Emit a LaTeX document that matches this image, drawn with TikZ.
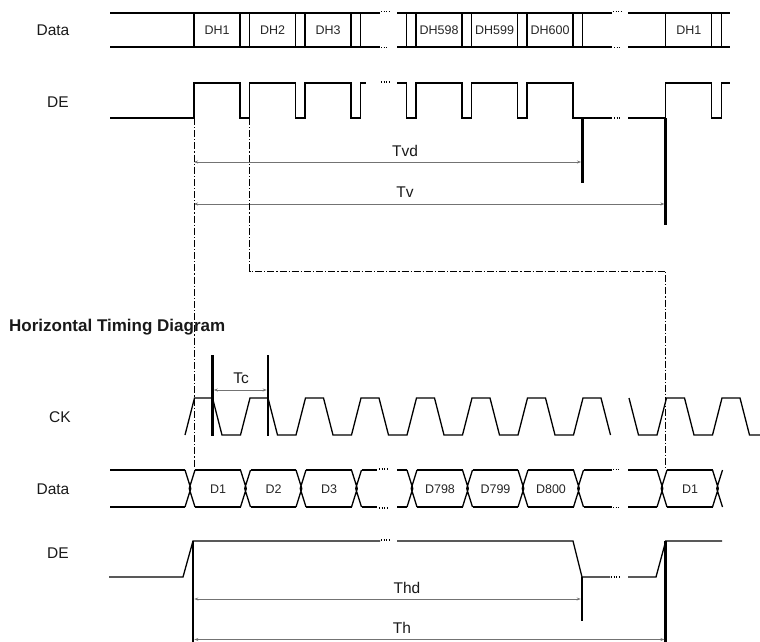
\documentclass[tikz,border=0pt]{standalone}
\usepackage{fontspec}
\setmainfont{Liberation Sans}
\usetikzlibrary{arrows.meta}
\tikzset{
  wave/.style={line width=1.3pt, line join=miter, draw=black},
  bar/.style={line width=2.6pt, draw=black},
  dim/.style={draw=black!55, line width=0.7pt, {Stealth[length=4pt,width=3pt]}-{Stealth[length=4pt,width=3pt]}},
  dd/.style={line width=0.9pt, draw=black, dash pattern=on 7pt off 2pt on 1.2pt off 2pt},
  gapdots/.style={line width=1.2pt, draw=black, dash pattern=on 1.2pt off 1.4pt},
  lbl/.style={inner sep=0pt, text=black!90, font=\fontsize{15.5}{18}\selectfont},
  cell/.style={inner sep=0pt, text=black!85, font=\fontsize{12.5}{14}\selectfont},
  head/.style={inner sep=0pt, anchor=west, text=black!90, font=\bfseries\fontsize{17}{20}\selectfont},
}
\begin{document}
\begin{tikzpicture}[x=1pt,y=-1pt]
\useasboundingbox (0,0) rectangle (760,642);

% ---------------- top Data row ----------------
\node[lbl] (dataV) at (53,30) {Data};
\draw[wave] (110,13) -- (380,13) (110,47) -- (380,47)
            (397,13) -- (612,13) (397,47) -- (612,47)
            (628,13) -- (730,13) (628,47) -- (730,47);
\draw[gapdots] (381,11.5) -- (389,11.5) (381,47.5) -- (388,47.5)
               (613,11.5) -- (621,11.5) (614,47.5) -- (620,47.5);
\foreach \x in {194,240,249.5,295.5,305,351,360.5,406.5,416,462,471.5,517.5,527,573,582.5,665.75,711.75,721.25}
  \draw[wave] (\x,12.4) -- (\x,47.8);
\node[cell] (dh1)   at (217,30)    {DH1};
\node[cell] (dh2)   at (272.5,30)  {DH2};
\node[cell] (dh3)   at (328,30)    {DH3};
\node[cell] (dh598) at (439,30)    {DH598};
\node[cell] (dh599) at (494.5,30)  {DH599};
\node[cell] (dh600) at (550,30)    {DH600};
\node[cell] (dh1b)  at (688.75,30) {DH1};

% ---------------- top DE row ----------------
\node[lbl] (deV) at (58,102) {DE};
\draw[wave] (110,118) -- (194,118) -- (194,83) -- (240,83) -- (240,118) -- (249.5,118)
  -- (249.5,83) -- (295.5,83) -- (295.5,118) -- (305,118) -- (305,83) -- (351,83)
  -- (351,118) -- (360.5,118) -- (360.5,83) -- (366,83);
\draw[wave] (397,83) -- (406.5,83) -- (406.5,118) -- (416,118) -- (416,83) -- (462,83)
  -- (462,118) -- (471.5,118) -- (471.5,83) -- (517.5,83) -- (517.5,118) -- (527,118)
  -- (527,83) -- (573,83) -- (573,118) -- (612,118);
\draw[wave] (628,118) -- (665.75,118) -- (665.75,83) -- (711.75,83) -- (711.75,118)
  -- (721.25,118) -- (721.25,83) -- (730,83);
\draw[gapdots] (381,82) -- (389,82) (614,118) -- (621,118);

\coordinate (tvdTop) at (582.5,118);
\coordinate (tvdBot) at (582.5,183);
\coordinate (tvTop) at (665.75,118);
\coordinate (tvBot) at (665.75,225);
\draw[bar] (tvdTop) -- (tvdBot);
\draw[bar] (tvTop) -- (tvBot);

\coordinate (tvdL) at (194,162);
\coordinate (tvdR) at (581,162);
\coordinate (tvL) at (194,204);
\coordinate (tvR) at (664.4,204);
\draw[dim] (tvdL) -- (tvdR);
\draw[dim] (tvL) -- (tvR);
\node[lbl] (tvdLabel) at (405,151) {Tvd};
\node[lbl] (tvLabel) at (405,192) {Tv};

% ---------------- dash-dot guides ----------------
\coordinate (g1a) at (194,118);
\coordinate (g1b) at (194,468);
\coordinate (g2a) at (249.5,118);
\coordinate (g2b) at (249.5,271);
\coordinate (g2c) at (665.75,271);
\coordinate (g2d) at (665.75,468);
\draw[dd] (g1a) -- (g1b);
\draw[dd] (g2a) -- (g2b) -- (g2c) -- (g2d);

% ---------------- heading ----------------
\node[head] (heading) at (9,327) {Horizontal Timing Diagram};

% ---------------- CK row ----------------
\node[lbl] (ckV) at (60,417) {CK};
\draw[wave] (185,435) \foreach \k in {0,...,6} {
    -- ({185+55.5*\k+9.5},398) -- ({185+55.5*\k+27.5},398)
    -- ({185+55.5*\k+37},435) -- ({185+55.5*(\k+1)},435) }
  -- (583,398) -- (601,398) -- (610.5,435);
\draw[wave] (629,398) -- (638.5,435) -- (657,435) -- (666.5,398) -- (684.5,398)
  -- (694,435) -- (712.5,435) -- (722,398) -- (740,398) -- (749.5,435) -- (760,435);

\coordinate (tcAt) at (212.5,355);
\coordinate (tcAb) at (212.5,436);
\coordinate (tcBt) at (268,355);
\coordinate (tcBb) at (268,436);
\draw[bar] (tcAt) -- (tcAb);
\draw[bar] (tcBt) -- (tcBb);
\coordinate (tcL) at (213.8,390);
\coordinate (tcR) at (266.7,390);
\draw[dim] (tcL) -- (tcR);
\node[lbl] (tcLabel) at (241,378) {Tc};

% ---------------- bottom Data row ----------------
\node[lbl] (dataH) at (53,489) {Data};
\foreach \c in {190,245.5,301,356.5,412,467.5,523,578.5,662,717.5}
  \draw[wave] ({\c-5},470) -- ({\c+0.8},488.5) -- ({\c-5},507)
              ({\c+5},470) -- ({\c-0.8},488.5) -- ({\c+5},507);
\draw[wave] (110,470) -- (185,470) (110,507) -- (185,507);
\foreach \c in {190,245.5,301,412,467.5,523}
  \draw[wave] ({\c+5},470) -- ({\c+50.5},470) ({\c+5},507) -- ({\c+50.5},507);
\draw[wave] (361.5,470) -- (377,470) (361.5,507) -- (377,507)
            (397,470) -- (407,470) (397,507) -- (407,507)
            (583.5,470) -- (612,470) (583.5,507) -- (612,507)
            (628,470) -- (657,470) (628,507) -- (657,507)
            (667,470) -- (712.5,470) (667,507) -- (712.5,507);
\draw[gapdots] (379,469) -- (388,469) (379,508) -- (388,508)
               (613,469.5) -- (620,469.5) (613,507.5) -- (620,507.5);
\node[cell] (d1)   at (218,489)   {D1};
\node[cell] (d2)   at (273.5,489) {D2};
\node[cell] (d3)   at (329,489)   {D3};
\node[cell] (d798) at (440,489)   {D798};
\node[cell] (d799) at (495.5,489) {D799};
\node[cell] (d800) at (551,489)   {D800};
\node[cell] (d1b)  at (690,489)   {D1};

% ---------------- bottom DE row ----------------
\node[lbl] (deH) at (58,553) {DE};
\draw[wave] (109,577) -- (183,577) -- (193,541) -- (380,541);
\draw[wave] (397,541) -- (573,541) -- (582,577) -- (610,577);
\draw[wave] (628,577) -- (656,577) -- (665.75,541) -- (722,541);
\draw[gapdots] (381,540) -- (390,540) (611,577) -- (620,577);

\coordinate (thTopL) at (193,541);
\coordinate (thBotL) at (193,642);
\coordinate (thdTop) at (582,577);
\coordinate (thdBot) at (582,621);
\coordinate (thTopR) at (665.75,541);
\coordinate (thBotR) at (665.75,642);
\draw[bar] (thTopL) -- (thBotL);
\draw[bar] (thdTop) -- (thdBot);
\draw[bar] (thTopR) -- (thBotR);
\coordinate (thdL) at (194.3,599);
\coordinate (thdR) at (580.7,599);
\coordinate (thL) at (194.3,639.5);
\coordinate (thR) at (664.4,639.5);
\draw[dim] (thdL) -- (thdR);
\draw[dim] (thL) -- (thR);
\node[lbl] (thdLabel) at (407,588) {Thd};
\node[lbl] (thLabel) at (402,628) {Th};
\end{tikzpicture}
\end{document}
